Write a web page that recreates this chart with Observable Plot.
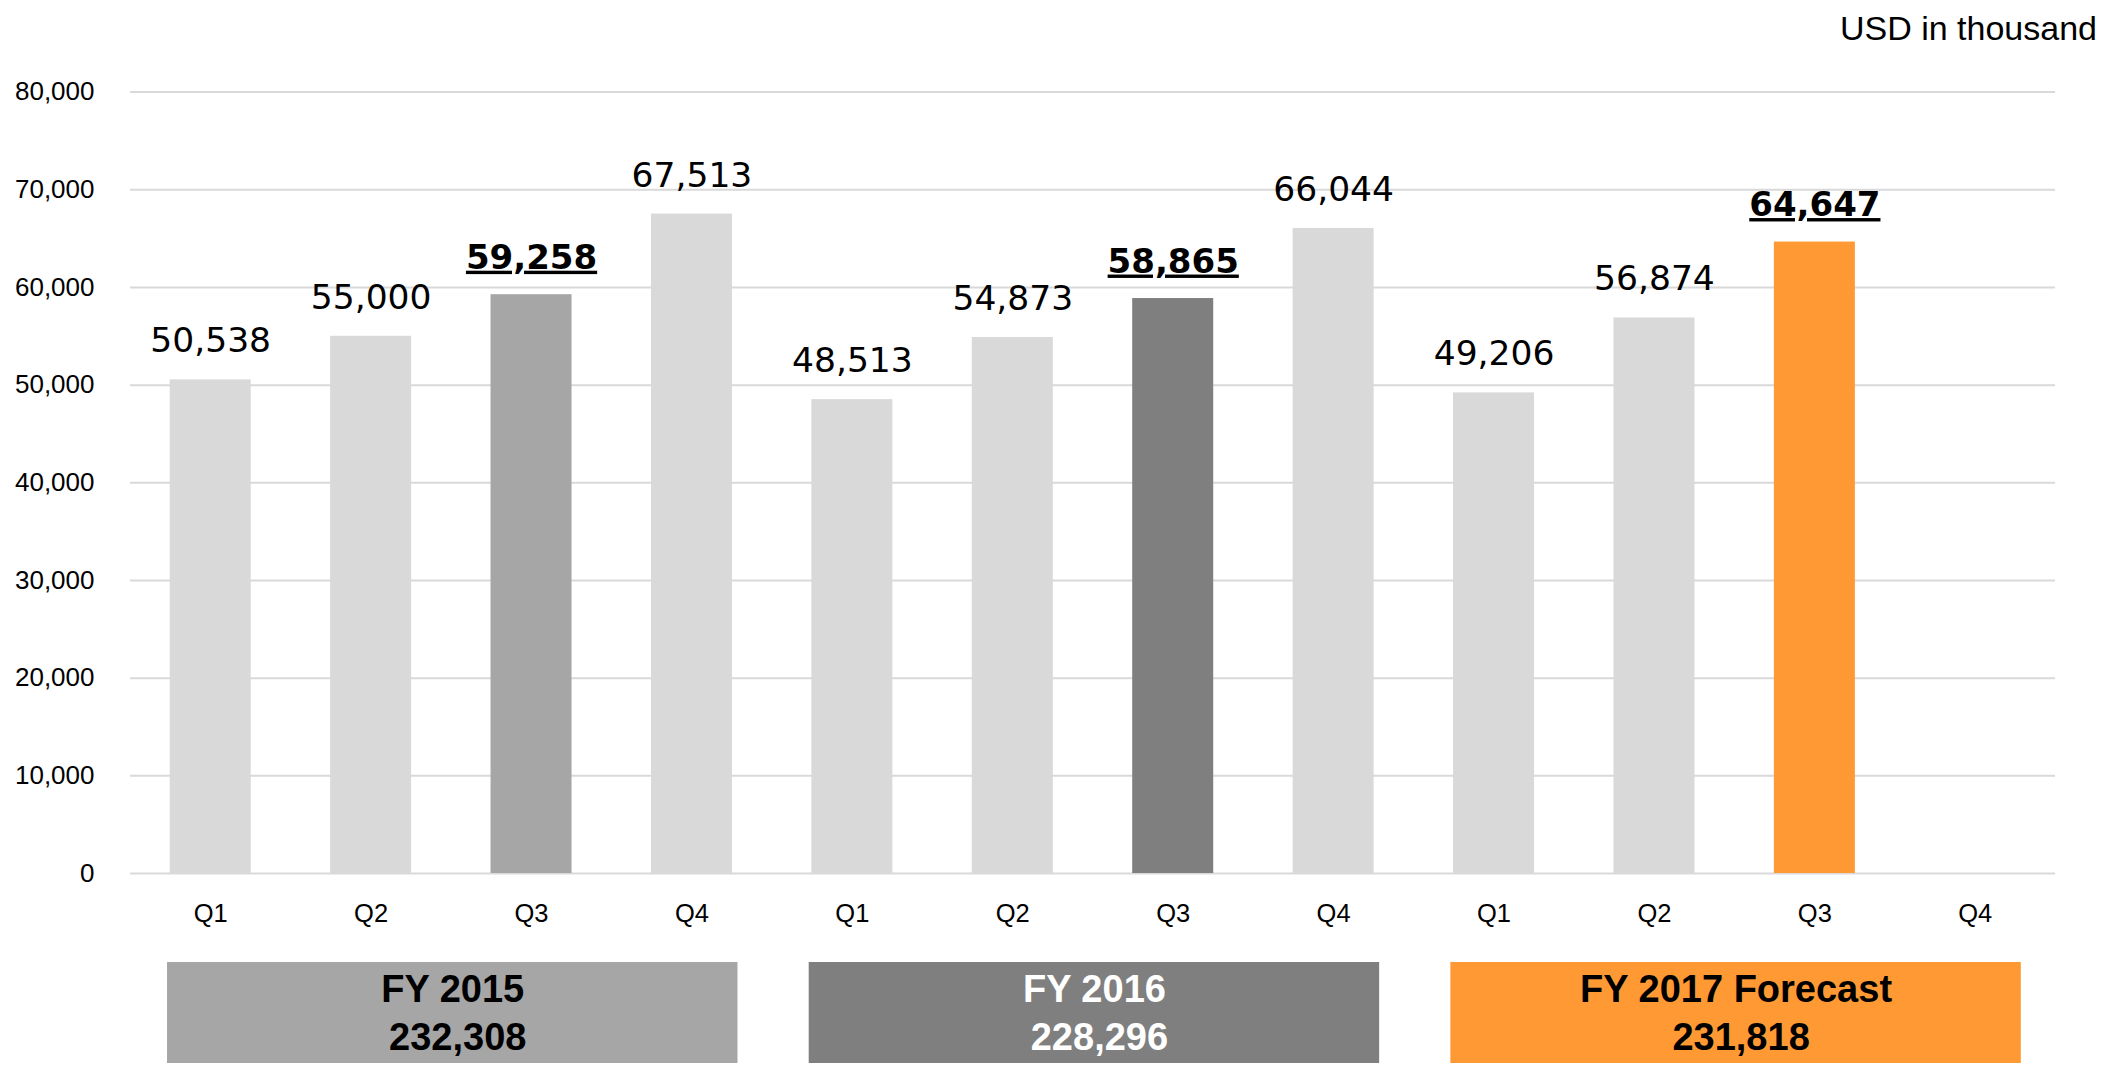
<!DOCTYPE html>
<html>
<head>
<meta charset="utf-8">
<script src="https://cdn.jsdelivr.net/npm/d3@7"></script>
<script src="https://cdn.jsdelivr.net/npm/@observablehq/plot@0.6"></script>
<style>
  html, body { margin: 0; padding: 0; background: #fff; overflow: hidden; }
  body { width: 2112px; height: 1065px; font-family: "Liberation Sans", Arial, sans-serif; color: #000; }
  #unit { height: 50px; line-height: 56px; font-size: 34px; text-align: right; padding-right: 15px; box-sizing: border-box; white-space: nowrap; }
  svg { display: block; }
  #bars g[font-weight="bold"] text { text-decoration: underline; }
</style>
</head>
<body>
<div id="unit">USD in thousand</div>
<div id="bars"></div>
<div id="years"></div>
<script>
// ---- data ----
const years = ["FY 2015", "FY 2016", "FY 2017 Forecast"];
const quarters = ["Q1", "Q2", "Q3", "Q4"];
const sales2015 = [50538, 55000, 59258, 67513];
const sales2016 = [48513, 54873, 58865, 66044];
const sales2017 = [49206, 56874, 64647, null];
const yearTotals = [232308, 228296, 231818];
const yTicks = [0, 10000, 20000, 30000, 40000, 50000, 60000, 70000, 80000];
const highlightQuarter = "Q3";

// ---- styles ----
const baseColor = "#d9d9d9";
const yearColors = ["#a6a6a6", "#7f7f7f", "#ff9933"];
const yearTextColors = ["#000000", "#ffffff", "#000000"];
const gridColor = "#d9d9d9";

const fmt = d3.format(",");
const seriesByYear = [sales2015, sales2016, sales2017];
const rows = years.flatMap((yr, i) => quarters.map((q, j) => ({
  key: yr + "|" + q, year: yr, yi: i, quarter: q, value: seriesByYear[i][j]
})));
const present = rows.filter(d => d.value != null);
const normal = present.filter(d => d.quarter !== highlightQuarter);
const highlighted = present.filter(d => d.quarter === highlightQuarter);

const marginLeft = 130, marginRight = 57;

const chart = Plot.plot({
  width: 2112,
  height: 890,
  marginTop: 41.6,
  marginBottom: 67,
  marginLeft, marginRight,
  style: {fontFamily: "'Liberation Sans', Arial, sans-serif", fontSize: "25px", color: "#000", background: "#fff"},
  x: {domain: rows.map(d => d.key), paddingInner: 0.495, paddingOuter: 0.2475, round: false, axis: null},
  y: {domain: [0, 80000], axis: null},
  color: {type: "identity"},
  marks: [
    Plot.ruleY(yTicks, {stroke: gridColor, strokeWidth: 2}),
    Plot.barY(present, {x: "key", y: "value", fill: d => d.quarter === highlightQuarter ? yearColors[d.yi] : baseColor}),
    Plot.axisY({ticks: yTicks, tickSize: 0, tickPadding: 36, tickFormat: fmt, fontSize: 26, label: null}),
    Plot.axisX({tickSize: 0, tickPadding: 30, tickFormat: k => k.split("|")[1], fontSize: 25.5, label: null}),
    Plot.text(normal, {x: "key", y: "value", text: d => fmt(d.value), lineAnchor: "bottom", dy: -27.5,
      fontFamily: "'DejaVu Sans', Verdana, sans-serif", fontSize: 34.5, fill: "#000"}),
    Plot.text(highlighted, {x: "key", y: "value", text: d => fmt(d.value), lineAnchor: "bottom", dy: -26,
      fontFamily: "'DejaVu Sans', Verdana, sans-serif", fontSize: 34, fontWeight: "bold", fill: "#000"})
  ]
});
document.getElementById("bars").appendChild(chart);

const yearRows = years.map((yr, i) => ({year: yr, total: yearTotals[i], fill: yearColors[i], ink: yearTextColors[i]}));
const boxes = Plot.plot({
  width: 2112,
  height: 125,
  marginTop: 22,
  marginBottom: 2,
  marginLeft, marginRight,
  style: {fontFamily: "'Liberation Sans', Arial, sans-serif", fontSize: "38px", background: "#fff"},
  x: {domain: years, paddingInner: 0.111, paddingOuter: 0.0555, round: false, align: 0.52, axis: null},
  color: {type: "identity"},
  marks: [
    Plot.cell(yearRows, {x: "year", fill: "fill", inset: 0}),
    Plot.text(yearRows, {x: "year", text: "year", fill: "ink", lineAnchor: "bottom", dy: -11,
      fontSize: 38, fontWeight: "bold", letterSpacing: 1}),
    Plot.text(yearRows, {x: "year", text: d => fmt(d.total), fill: "ink", lineAnchor: "bottom", dy: 36.5, dx: 5,
      fontSize: 38, fontWeight: "bold", letterSpacing: 1})
  ]
});
document.getElementById("years").appendChild(boxes);
</script>
</body>
</html>
